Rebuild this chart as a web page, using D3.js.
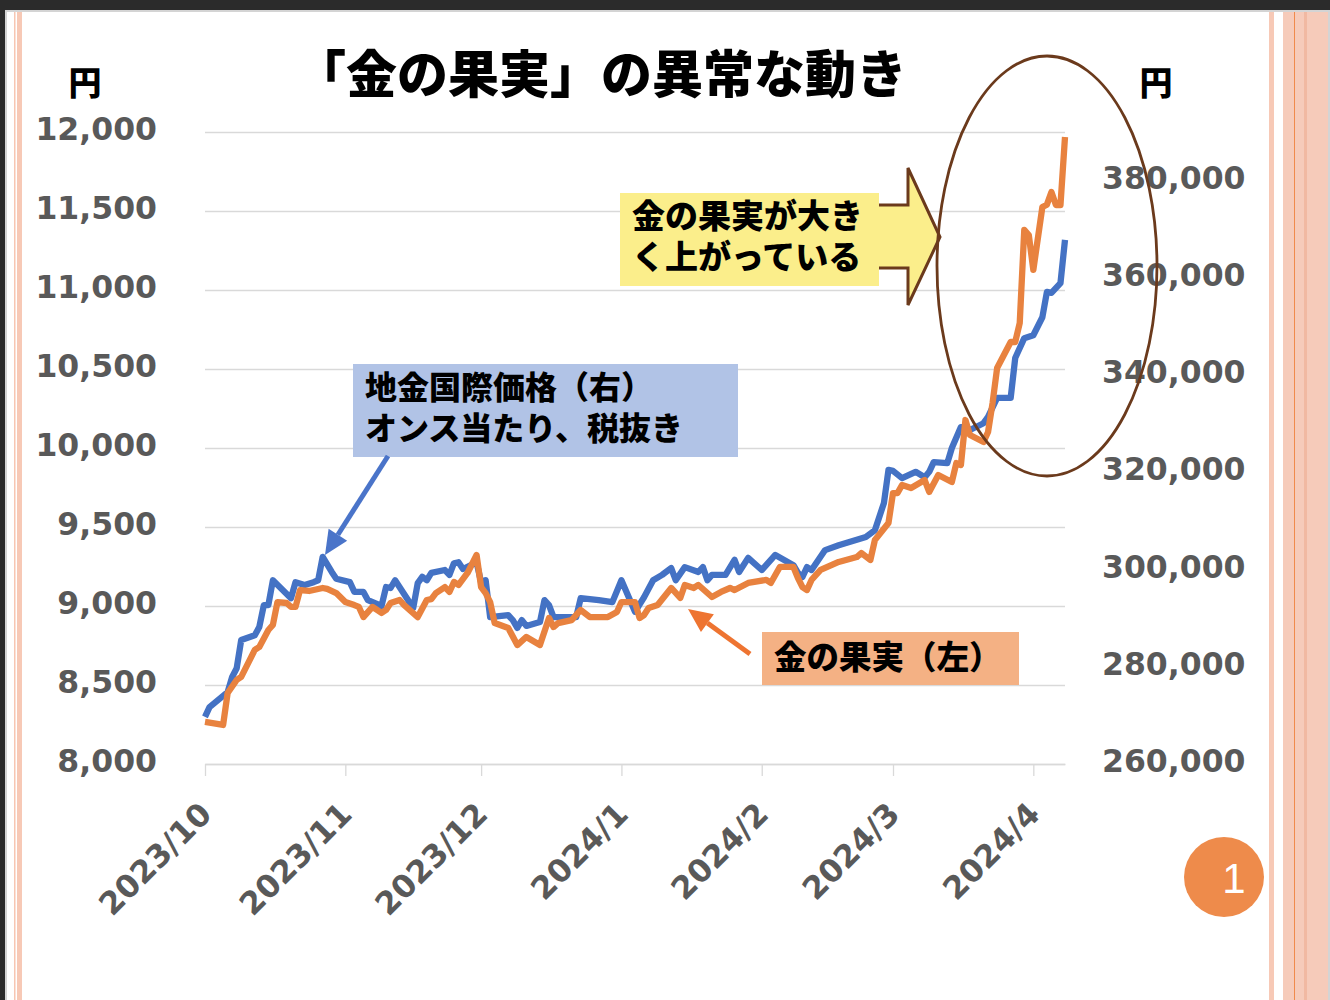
<!DOCTYPE html>
<html>
<head>
<meta charset="utf-8">
<script src="https://cdn.jsdelivr.net/npm/d3@7"></script>
<style>
  body { margin: 0; background: #fff; }
  svg { display: block; }
</style>
</head>
<body>
<svg id="chart" width="1330" height="1000"></svg>
<script>
// 金の果実 (left axis, yen)
const fundDates = [
  '2023-10-01', '2023-10-05', '2023-10-06', '2023-10-08', '2023-10-09', '2023-10-12', '2023-10-13',
  '2023-10-15', '2023-10-16', '2023-10-17', '2023-10-19', '2023-10-20', '2023-10-21', '2023-10-22',
  '2023-10-24', '2023-10-27', '2023-10-28', '2023-10-30', '2023-11-01', '2023-11-03', '2023-11-04',
  '2023-11-05', '2023-11-07', '2023-11-09', '2023-11-10', '2023-11-11', '2023-11-13', '2023-11-14',
  '2023-11-17', '2023-11-19', '2023-11-20', '2023-11-21', '2023-11-23', '2023-11-24', '2023-11-25',
  '2023-11-26', '2023-11-28', '2023-11-30', '2023-12-01', '2023-12-02', '2023-12-03', '2023-12-04',
  '2023-12-07', '2023-12-09', '2023-12-11', '2023-12-14', '2023-12-16', '2023-12-17', '2023-12-18',
  '2023-12-21', '2023-12-23', '2023-12-25', '2023-12-29', '2023-12-31', '2024-01-01', '2024-01-04',
  '2024-01-05', '2024-01-06', '2024-01-07', '2024-01-09', '2024-01-12', '2024-01-14', '2024-01-15',
  '2024-01-17', '2024-01-18', '2024-01-21', '2024-01-23', '2024-01-25', '2024-01-26', '2024-01-29',
  '2024-02-02', '2024-02-03', '2024-02-05', '2024-02-08', '2024-02-09', '2024-02-10', '2024-02-11',
  '2024-02-12', '2024-02-14', '2024-02-18', '2024-02-22', '2024-02-23', '2024-02-25', '2024-02-26',
  '2024-02-29', '2024-03-01', '2024-03-02', '2024-03-03', '2024-03-05', '2024-03-08', '2024-03-09',
  '2024-03-11', '2024-03-14', '2024-03-15', '2024-03-16', '2024-03-17', '2024-03-18', '2024-03-21',
  '2024-03-22', '2024-03-23', '2024-03-24', '2024-03-27', '2024-03-28', '2024-03-29', '2024-03-30',
  '2024-03-31', '2024-04-01', '2024-04-03', '2024-04-04', '2024-04-05', '2024-04-06', '2024-04-07',
  '2024-04-08'
]
const fundValues = [
  8266, 8247, 8449, 8532, 8551, 8722, 8741,
  8848, 8880, 9025, 9019, 8994, 8994, 9101,
  9095, 9114, 9108, 9082, 9025, 9006, 8994,
  8930, 8994, 8956, 8975, 9019, 9038, 9006,
  8930, 9038, 9044, 9082, 9120, 9089, 9152,
  9133, 9209, 9323, 9120, 9082, 9025, 8892,
  8861, 8753, 8804, 8753, 8924, 8867, 8892,
  8911, 8975, 8930, 8930, 8962, 9025, 9025,
  8924, 8943, 8987, 9006, 9114, 9051, 9133,
  9114, 9133, 9057, 9089, 9114, 9101, 9146,
  9165, 9146, 9247, 9247, 9177, 9120, 9101,
  9165, 9228, 9279, 9310, 9335, 9291, 9418,
  9525, 9715, 9715, 9766, 9747, 9797, 9722,
  9829, 9785, 9905, 9892, 10177, 10082, 10038,
  10101, 10285, 10506, 10671, 10671, 10791, 11380,
  11348, 11127, 11525, 11540, 11620, 11538, 11538,
  11968
]

// 地金国際価格 (right axis, yen per ounce, excl. tax)
const spotDates = [
  '2023-10-01', '2023-10-02', '2023-10-06', '2023-10-07', '2023-10-08', '2023-10-09', '2023-10-12',
  '2023-10-13', '2023-10-14', '2023-10-15', '2023-10-16', '2023-10-20', '2023-10-21', '2023-10-23',
  '2023-10-25', '2023-10-26', '2023-10-27', '2023-10-29', '2023-10-30', '2023-11-02', '2023-11-03',
  '2023-11-05', '2023-11-06', '2023-11-09', '2023-11-10', '2023-11-11', '2023-11-12', '2023-11-16',
  '2023-11-17', '2023-11-18', '2023-11-19', '2023-11-20', '2023-11-23', '2023-11-24', '2023-11-25',
  '2023-11-26', '2023-11-27', '2023-11-30', '2023-12-01', '2023-12-02', '2023-12-03', '2023-12-07',
  '2023-12-08', '2023-12-09', '2023-12-10', '2023-12-11', '2023-12-14', '2023-12-15', '2023-12-16',
  '2023-12-17', '2023-12-22', '2023-12-23', '2023-12-27', '2023-12-30', '2024-01-01', '2024-01-04',
  '2024-01-06', '2024-01-08', '2024-01-10', '2024-01-12', '2024-01-13', '2024-01-15', '2024-01-18',
  '2024-01-19', '2024-01-20', '2024-01-21', '2024-01-24', '2024-01-26', '2024-01-27', '2024-01-29',
  '2024-02-01', '2024-02-04', '2024-02-08', '2024-02-09', '2024-02-10', '2024-02-11', '2024-02-12',
  '2024-02-15', '2024-02-18', '2024-02-24', '2024-02-26', '2024-02-28', '2024-02-29', '2024-03-01',
  '2024-03-03', '2024-03-06', '2024-03-08', '2024-03-09', '2024-03-10', '2024-03-13', '2024-03-14',
  '2024-03-16', '2024-03-18', '2024-03-21', '2024-03-22', '2024-03-24', '2024-03-27', '2024-03-28',
  '2024-03-30', '2024-04-01', '2024-04-03', '2024-04-04', '2024-04-05', '2024-04-07', '2024-04-08'
]
const spotValues = [
  269700, 271700, 274800, 277900, 279700, 285500, 286500,
  288200, 292700, 292700, 297800, 294100, 297400, 296800,
  297400, 297800, 302600, 299500, 298100, 297400, 295400,
  295400, 293700, 292500, 296400, 296200, 297800, 292100,
  297200, 298500, 297800, 299300, 299900, 298900, 301300,
  301500, 300100, 301500, 297400, 297800, 290200, 290600,
  289600, 288000, 289600, 288400, 289200, 293700, 292700,
  290200, 290200, 294100, 293700, 293300, 297800, 291300,
  294300, 297800, 298900, 300300, 297800, 300500, 299500,
  300500, 297800, 298900, 298900, 302000, 299500, 302400,
  299900, 303000, 300900, 299300, 298500, 300500, 299900,
  304000, 305000, 306700, 308100, 313700, 320500, 320300,
  318800, 320100, 319000, 320100, 322100, 321900, 325000,
  329300, 328700, 330100, 331400, 335300, 335300, 343500,
  347600, 348200, 351900, 357100, 356900, 358900, 367800
]

const leftTicks = [8000, 8500, 9000, 9500, 10000, 10500, 11000, 11500, 12000]
const rightTicks = [260000, 280000, 300000, 320000, 340000, 360000, 380000]
const monthTicks = ['2023-10-01', '2023-11-01', '2023-12-01', '2024-01-01', '2024-02-01', '2024-03-01', '2024-04-01']
const monthLabels = ['2023/10', '2023/11', '2023/12', '2024/1', '2024/2', '2024/3', '2024/4']

const parseDate = d3.timeParse('%Y-%m-%d')
const svg = d3.select('#chart')

const JP = '"Noto Sans CJK JP", "Noto Sans", sans-serif'
const NUM = '"DejaVu Sans", sans-serif'
const GRAY = '#595959'

// slide frame
svg.append('rect').attr('width', 1330).attr('height', 1000).attr('fill', '#2b2b2b')
svg.append('rect').attr('x', 5).attr('y', 10).attr('width', 1325).attr('height', 990).attr('fill', '#d4d4d4')
svg.append('rect').attr('x', 7).attr('y', 12).attr('width', 1321).attr('height', 988).attr('fill', '#fff')
svg.append('rect').attr('x', 14).attr('y', 12).attr('width', 1.5).attr('height', 988).attr('fill', '#f7c6b2')
svg.append('rect').attr('x', 17).attr('y', 12).attr('width', 5).attr('height', 988).attr('fill', '#f7c9b6')
svg.append('rect').attr('x', 1269).attr('y', 12).attr('width', 5).attr('height', 988).attr('fill', '#f7c9b6')
svg.append('rect').attr('x', 1283).attr('y', 12).attr('width', 45).attr('height', 988).attr('fill', '#f6cbba')
svg.append('rect').attr('x', 1304).attr('y', 12).attr('width', 3).attr('height', 988).attr('fill', '#f1b9a2')
svg.append('rect').attr('x', 1294).attr('y', 12).attr('width', 1).attr('height', 988).attr('fill', '#f08a4b')

const x = d3.scaleTime()
  .domain([parseDate('2023-10-01'), parseDate('2024-04-08')])
  .range([205, 1065])
const yL = d3.scaleLinear().domain([8000, 12000]).range([764, 132])
const yR = d3.scaleLinear().domain([260000, 390000]).range([764, 132])

// gridlines
svg.append('g')
  .attr('transform', 'translate(205,0)')
  .call(d3.axisLeft(yL).tickValues(leftTicks).tickSize(-860).tickFormat(''))
  .call(g => g.select('.domain').remove())
  .call(g => g.selectAll('line').attr('stroke', '#d9d9d9').attr('stroke-width', 1.3))

// left axis labels
svg.append('g')
  .attr('transform', 'translate(205,0)')
  .call(d3.axisLeft(yL).tickValues(leftTicks).tickSize(0).tickPadding(48).tickFormat(d3.format(',')))
  .call(g => g.select('.domain').remove())
  .call(g => g.selectAll('text')
    .attr('fill', GRAY).style('font', `bold 31.5px ${NUM}`).attr('dy', '0.25em'))

// right axis labels
svg.append('g')
  .attr('transform', 'translate(1065,0)')
  .call(d3.axisRight(yR).tickValues(rightTicks).tickSize(0).tickPadding(37).tickFormat(d3.format(',')))
  .call(g => g.select('.domain').remove())
  .call(g => g.selectAll('text')
    .attr('fill', GRAY).style('font', `bold 31.5px ${NUM}`).attr('dy', '0.24em'))

// x axis
svg.append('g')
  .attr('transform', 'translate(0,764)')
  .call(d3.axisBottom(x).tickValues(monthTicks.map(parseDate)).tickSize(12).tickSizeOuter(0)
    .tickFormat((d, i) => monthLabels[i]))
  .call(g => g.select('.domain').attr('stroke', '#d9d9d9').attr('stroke-width', 1.3))
  .call(g => g.selectAll('line').attr('stroke', '#d9d9d9').attr('stroke-width', 1.3))
  .call(g => g.selectAll('text')
    .attr('fill', GRAY).style('font', `bold 31.5px ${NUM}`)
    .attr('text-anchor', 'end').attr('x', 0).attr('y', 0).attr('dy', 0)
    .attr('transform', 'translate(8,52) rotate(-45)'))

// lines
const spot = spotDates.map((d, i) => ({ date: parseDate(d), value: spotValues[i] }))
const fund = fundDates.map((d, i) => ({ date: parseDate(d), value: fundValues[i] }))

svg.append('path')
  .datum(spot)
  .attr('fill', 'none')
  .attr('stroke', '#4472c4')
  .attr('stroke-width', 6.3)
  .attr('stroke-linejoin', 'round')
  .attr('d', d3.line().x(d => x(d.date)).y(d => yR(d.value)))

svg.append('path')
  .datum(fund)
  .attr('fill', 'none')
  .attr('stroke', '#e8823f')
  .attr('stroke-width', 6.3)
  .attr('stroke-linejoin', 'round')
  .attr('d', d3.line().x(d => x(d.date)).y(d => yL(d.value)))

// title and unit labels
svg.append('text')
  .attr('x', 601).attr('y', 93)
  .attr('text-anchor', 'middle')
  .style('font', `900 51px ${JP}`)
  .text('「金の果実」の異常な動き')

svg.append('text').attr('x', 85).attr('y', 95).attr('text-anchor', 'middle')
  .style('font', `900 33px ${JP}`).text('円')
svg.append('text').attr('x', 1156).attr('y', 95).attr('text-anchor', 'middle')
  .style('font', `900 33px ${JP}`).text('円')

// annotation boxes (multi-line text as tspans of one text element)
function note (x0, y0, w, h, fill, lines, baseline, size) {
  svg.append('rect').attr('x', x0).attr('y', y0).attr('width', w).attr('height', h).attr('fill', fill)
  const t = svg.append('text')
    .attr('x', x0 + 12).attr('y', baseline)
    .style('font', `900 ${size}px ${JP}`)
  lines.forEach((s, i) => {
    t.append('tspan').attr('x', x0 + 12).attr('y', baseline + i * 41).text(s)
  })
}

note(353, 364, 385, 93, '#b1c3e6', ['地金国際価格（右）', 'オンス当たり、税抜き'], 399, 32)
note(762, 632, 257, 53, '#f4b184', ['金の果実（左）'], 669, 32.5)
note(620, 193, 259, 93, '#fbee8b', ['金の果実が大き', 'く上がっている'], 228, 33)

// arrows
function arrow (x1, y1, x2, y2, color) {
  const a = Math.atan2(y2 - y1, x2 - x1)
  const len = 24
  const half = 11
  const bx = x2 - len * Math.cos(a)
  const by = y2 - len * Math.sin(a)
  svg.append('line')
    .attr('x1', x1).attr('y1', y1).attr('x2', bx).attr('y2', by)
    .attr('stroke', color).attr('stroke-width', 5)
  svg.append('path')
    .attr('fill', color)
    .attr('d', `M${x2},${y2}L${bx + half * Math.sin(a)},${by - half * Math.cos(a)}` +
      `L${bx - half * Math.sin(a)},${by + half * Math.cos(a)}Z`)
}

arrow(388, 456, 325, 555, '#4a74c9')
arrow(750, 654, 688, 609, '#ee7431')

// block arrow
svg.append('path')
  .attr('d', 'M879,205L908,205L908,168L940,237L908,305L908,268L879,268')
  .attr('fill', '#fbee8b')
  .attr('stroke', '#6b3a1c')
  .attr('stroke-width', 3)
  .attr('stroke-linejoin', 'miter')

// ellipse highlight
svg.append('ellipse')
  .attr('cx', 1047).attr('cy', 266).attr('rx', 110).attr('ry', 210)
  .attr('fill', 'none').attr('stroke', '#6b3a1c').attr('stroke-width', 2.8)

// page number
svg.append('circle').attr('cx', 1224).attr('cy', 877).attr('r', 40).attr('fill', '#ee8b4b')
svg.append('text').attr('x', 1234).attr('y', 893).attr('text-anchor', 'middle')
  .attr('fill', '#fff').style('font', `42px "Liberation Sans", sans-serif`).text('1')
</script>
</body>
</html>
